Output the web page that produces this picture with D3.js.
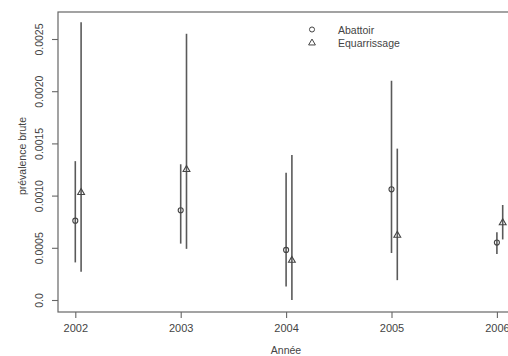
<!DOCTYPE html>
<html><head><meta charset="utf-8">
<script src="https://cdn.jsdelivr.net/npm/d3@7"></script>
<style>
html,body{margin:0;padding:0;background:#fff;overflow:hidden}
svg{display:block}
text{font-family:"Liberation Sans",Arial,sans-serif;fill:#444}
</style></head>
<body>
<svg id="c" width="508" height="356"></svg>
<script>
const years = [2002, 2003, 2004, 2005, 2006];
const abattoir = [0.00076, 0.00086, 0.00048, 0.00106, 0.00055];
const abattoirLow = [0.00036, 0.00054, 0.00013, 0.00045, 0.00044];
const abattoirHigh = [0.00133, 0.00130, 0.00122, 0.00210, 0.00065];
const equar = [0.00103, 0.00125, 0.00038, 0.00062, 0.00074];
const equarLow = [0.00027, 0.00049, 0.00000, 0.00019, 0.00058];
const equarHigh = [0.00266, 0.00255, 0.00139, 0.00145, 0.00091];
const yTicks = [0, 0.0005, 0.0010, 0.0015, 0.0020, 0.0025];
const yTickLabels = ["0.0", "0.0005", "0.0010", "0.0015", "0.0020", "0.0025"];
const seriesNames = ["Abattoir", "Equarrissage"];

const svg = d3.select("#c");
const x = d3.scaleLinear().domain([2002, 2006]).range([75.3, 496.9]);
const y = d3.scaleLinear().domain([0, 0.0025]).range([300, 39]);
const offset = 0.055;
const lineCol = "#5a5a5a";

// box
svg.append("rect").attr("x", 58).attr("y", 12).attr("width", 470).attr("height", 300)
  .attr("fill", "none").attr("stroke", "#666").attr("stroke-width", 1.2);

// y axis
const ya = svg.append("g").attr("transform", "translate(58,0)")
  .call(d3.axisLeft(y).tickValues(yTicks).tickSize(6).tickFormat((d, i) => yTickLabels[i]));
ya.select(".domain").remove();
ya.selectAll(".tick line").attr("stroke", "#666").attr("stroke-width", 1.1);
ya.selectAll(".tick text").attr("transform", "rotate(-90)").attr("x", 0).attr("y", -15)
  .attr("dy", 0).attr("text-anchor", "middle").style("font-size", "10.5px")
  .style("font-family", '"Liberation Sans",Arial,sans-serif').attr("fill", "#444");

// x axis
const xa = svg.append("g").attr("transform", "translate(0,312)")
  .call(d3.axisBottom(x).tickValues(years).tickSize(6).tickFormat(d3.format("d")));
xa.select(".domain").remove();
xa.selectAll(".tick line").attr("stroke", "#666").attr("stroke-width", 1.1);
xa.selectAll(".tick text").attr("y", 12).attr("dy", "0.71em").style("font-size", "11px")
  .style("font-family", '"Liberation Sans",Arial,sans-serif').attr("fill", "#444");

// axis titles
svg.append("text").attr("x", 286).attr("y", 354).attr("text-anchor", "middle")
  .style("font-size", "10.5px").text("Année");
svg.append("text").attr("transform", "translate(26,156) rotate(-90)").attr("text-anchor", "middle")
  .style("font-size", "10.5px").text("prévalence brute");

// error bars
const g = svg.append("g");
years.forEach((yr, i) => {
  g.append("line").attr("x1", x(yr)).attr("x2", x(yr))
    .attr("y1", y(abattoirLow[i])).attr("y2", y(abattoirHigh[i]))
    .attr("stroke", lineCol).attr("stroke-width", 1.6);
  g.append("line").attr("x1", x(yr + offset)).attr("x2", x(yr + offset))
    .attr("y1", y(equarLow[i])).attr("y2", y(equarHigh[i]))
    .attr("stroke", lineCol).attr("stroke-width", 1.6);
});
const circ = d3.symbol().type(d3.symbolCircle).size(20);
const tri = d3.symbol().type(d3.symbolTriangle).size(20);
years.forEach((yr, i) => {
  g.append("path").attr("d", circ).attr("transform", `translate(${x(yr)},${y(abattoir[i])})`)
    .attr("fill", "none").attr("stroke", "#444").attr("stroke-width", 1.1);
  g.append("path").attr("d", tri).attr("transform", `translate(${x(yr + offset)},${y(equar[i])})`)
    .attr("fill", "none").attr("stroke", "#444").attr("stroke-width", 1.1);
});

// legend
const leg = svg.append("g");
leg.append("path").attr("d", circ).attr("transform", "translate(312,29.5)")
  .attr("fill", "none").attr("stroke", "#444").attr("stroke-width", 1);
leg.append("path").attr("d", tri).attr("transform", "translate(312,43)")
  .attr("fill", "none").attr("stroke", "#444").attr("stroke-width", 1);
leg.append("text").attr("x", 338).attr("y", 33.5).style("font-size", "10.5px").text(seriesNames[0]);
leg.append("text").attr("x", 338).attr("y", 47).style("font-size", "10.5px").text(seriesNames[1]);
</script>
</body></html>
